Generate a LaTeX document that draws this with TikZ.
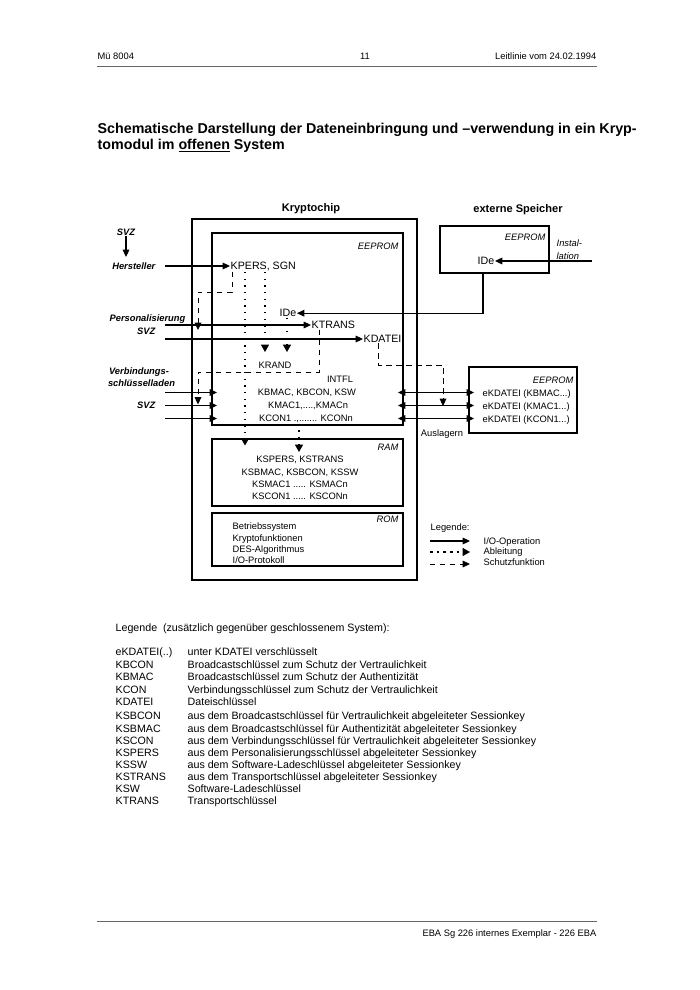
\documentclass[tikz,border=0pt]{standalone}
\usepackage{fontspec}
\setmainfont{Liberation Sans}
\usetikzlibrary{arrows.meta,fit,calc}
\begin{document}
\begin{tikzpicture}[x=0.75pt,y=-0.75pt,
  every node/.style={inner sep=0.5pt, outer sep=0pt},
  box/.style={draw, line width=0.8pt, inner sep=0pt},
  t7/.style={font=\fontsize{7}{8.4}\selectfont},
  t8/.style={font=\fontsize{8}{9.6}\selectfont},
  tk/.style={font=\fontsize{8}{9.6}\selectfont},
  ttl/.style={font=\fontsize{10.7}{13}\selectfont\bfseries},
  hdb/.style={font=\fontsize{8.3}{10}\selectfont\bfseries},
  ital/.style={font=\fontsize{7}{8.4}\selectfont\itshape},
  bital/.style={font=\fontsize{7}{8.4}\selectfont\bfseries\itshape},
  io/.style={line width=0.8pt,-{Triangle[length=5.5pt,width=5pt]}},
  iob/.style={line width=0.8pt,{Triangle[length=5.5pt,width=5pt]}-{Triangle[length=5.5pt,width=5pt]}},
  der/.style={line width=0.8pt,dash pattern=on 1pt off 4pt,-{Triangle[length=5.5pt,width=6pt]}},
  prot/.style={line width=0.65pt,dash pattern=on 4pt off 3.5pt,-{Triangle[length=5.5pt,width=5pt]}},
  rule/.style={line width=0.6pt, black!60},
]
\fill[white] (0,0) rectangle (700,990);
\useasboundingbox (0,0) rectangle (700,990);

% header
\node[t7,anchor=base west] (hl) at (97,59) {Mü 8004};
\node[t7,anchor=base] (hm) at (365,59) {11};
\node[t7,anchor=base east] (hr) at (597,59) {Leitlinie vom 24.02.1994};
\coordinate (hla) at (97,66); \coordinate (hlb) at (597,66);
\draw[rule] (hla) -- (hlb);

% title
\node[ttl,anchor=base west] (ti1) at (97,133) {Schematische Darstellung der Dateneinbringung und –verwendung in ein Kryp-};
\node[ttl,anchor=base west] (ti2) at (97,149) {tomodul im \underline{offenen} System};

\node[hdb,anchor=base] (kc) at (311,211) {Kryptochip};
\node[hdb,anchor=base] (es) at (518,212) {externe Speicher};

% boxes
\node[box, fit={(192,219)(417,580)}] (chip) {};
\node[box, fit={(212,233)(403,425)}] (eep) {};
\node[box, fit={(212,439)(403,506)}] (ram) {};
\node[box, fit={(212,513)(403,566)}] (rom) {};
\node[box, fit={(440,226)(549,273)}] (xeep) {};
\node[box, fit={(469,367)(577,433)}] (xeep2) {};

\node[ital,anchor=base east] (eepl) at (399,249.5) {EEPROM};
\node[ital,anchor=base east] (raml) at (399,450.5) {RAM};
\node[ital,anchor=base east] (roml) at (399,522.5) {ROM};
\node[ital,anchor=base east] (xeepl) at (546,240.5) {EEPROM};
\node[ital,anchor=base east] (xeep2l) at (574,383.5) {EEPROM};

% left labels
\node[bital,anchor=base] (svz1) at (126,235) {SVZ};
\node[bital,anchor=base east] (herst) at (156,269.5) {Hersteller};
\node[bital,anchor=base east] (pers) at (186,321.3) {Personalisierung};
\node[bital,anchor=base east] (svz2) at (156,334.5) {SVZ};
\node[bital,anchor=base] (verb1) at (139,374.5) {Verbindungs-};
\node[bital,anchor=base] (verb2) at (141.5,386.5) {schlüsselladen};
\node[bital,anchor=base east] (svz3) at (156,408.5) {SVZ};

% chip EEPROM content
\node[tk,anchor=base west] (kpers) at (230,269.8) {KPERS, SGN};
\node[tk,anchor=base] (ide1) at (288,316.8) {IDe};
\node[tk,anchor=base west] (ktrans) at (311,328.8) {KTRANS};
\node[tk,anchor=base west] (kdatei) at (363,342.8) {KDATEI};
\node[t7,anchor=base] (krand) at (275,368.3) {KRAND};
\node[t7,anchor=base] (intfl) at (340,382.3) {INTFL};
\node[t7,anchor=base] (kbmac) at (307,395.8) {KBMAC, KBCON, KSW};
\node[t7,anchor=base] (kmac) at (308,408.8) {KMAC1,....,KMACn};
\node[t7,anchor=base] (kcon) at (306,421.8) {KCON1 .,....... KCONn};

% RAM / ROM content
\node[t7,anchor=base] (r1) at (300,462.3) {KSPERS, KSTRANS};
\node[t7,anchor=base] (r2) at (300,475.3) {KSBMAC, KSBCON, KSSW};
\node[t7,anchor=base] (r3) at (300,487.3) {KSMAC1 ..... KSMACn};
\node[t7,anchor=base] (r4) at (300,499.3) {KSCON1 ..... KSCONn};
\node[t7,anchor=base west] (o1) at (232,529.3) {Betriebssystem};
\node[t7,anchor=base west] (o2) at (232,541.3) {Kryptofunktionen};
\node[t7,anchor=base west] (o3) at (232,552.3) {DES-Algorithmus};
\node[t7,anchor=base west] (o4) at (232,563.3) {I/O-Protokoll};

% external memories content
\node[tk,anchor=base] (ide2) at (486,264.8) {IDe};
\node[ital,anchor=base west] (inst1) at (556,246) {Instal-};
\node[ital,anchor=base west] (inst2) at (556,259) {lation};
\node[t7,anchor=base west] (ek1) at (482,396.3) {eKDATEI (KBMAC...)};
\node[t7,anchor=base west] (ek2) at (482,409.3) {eKDATEI (KMAC1...)};
\node[t7,anchor=base west] (ek3) at (482,422.3) {eKDATEI (KCON1...)};
\node[t7,anchor=base] (ausl) at (442,436.3) {Auslagern};

% I/O connectors
\coordinate (svzend) at (126,257);
\draw[io] (svz1.south) -- (svzend);
\coordinate (inH) at (165,266);
\draw[io] (inH) -- (inH -| kpers.west);
\coordinate (inP) at (165,325);
\draw[io] (inP) -- (inP -| ktrans.west);
\coordinate (inS) at (165,339);
\draw[io] (inS) -- (inS -| kdatei.west);
\coordinate (instin) at (592,261);
\draw[io] (instin) -- (instin -| ide2.east);
\coordinate (xout) at (483,273);
\draw[io] (xout) |- (ide1.east);

\foreach \y/\n in {392.5/1,405.5/2,418.5/3}{
  \coordinate (inV\n) at (165,\y);
  \coordinate (tV\n) at (217,\y);
  \draw[io] (inV\n) -- (tV\n);
  \coordinate (ra\n) at (398,\y);
  \coordinate (rb\n) at (474,\y);
  \draw[iob] (ra\n) -- (rb\n);
}

% derivations (dotted)
\coordinate (d1e) at (245,445.5);
\draw[der] (kpers.south -| d1e) -- (d1e);
\coordinate (d2e) at (265,352);
\draw[der] (kpers.south -| d2e) -- (d2e);
\coordinate (d3e) at (287,352);
\draw[der] (ide1.south -| d3e) -- (d3e);
\coordinate (d4e) at (299,452);
\draw[der] (kcon.south -| d4e) -- (d4e);

% protection (dashed)
\coordinate (p1a) at (232,292); \coordinate (p1b) at (198,292); \coordinate (p1e) at (198,330);
\draw[prot] (kpers.south -| p1a) -- (p1a) -- (p1b) -- (p1e);
\coordinate (p2a) at (319,372); \coordinate (p2b) at (198,372); \coordinate (p2e) at (198,404.5);
\draw[prot] (ktrans.south -| p2a) -- (p2a) -- (p2b) -- (p2e);
\coordinate (p3a) at (378,365); \coordinate (p3b) at (443,365); \coordinate (p3e) at (443,406);
\draw[prot] (kdatei.south -| p3a) -- (p3a) -- (p3b) -- (p3e);

% small legend
\node[t7,anchor=base west] (leg) at (430,530.3) {Legende:};
\coordinate (l1a) at (430,541); \coordinate (l1b) at (470,541);
\coordinate (l2a) at (430,552); \coordinate (l2b) at (470,552);
\coordinate (l3a) at (430,564); \coordinate (l3b) at (470,564);
\draw[io] (l1a) -- (l1b);
\draw[der, dash pattern=on 2pt off 3pt] (l2a) -- (l2b);
\draw[prot] (l3a) -- (l3b);
\node[t7,anchor=base west] (lt1) at (483,544.3) {I/O-Operation};
\node[t7,anchor=base west] (lt2) at (483,554.8) {Ableitung};
\node[t7,anchor=base west] (lt3) at (483,565.3) {Schutzfunktion};

% bottom legend
\node[t8,anchor=base west] (bl) at (115,631.8) {Legende\ \ (zusätzlich gegenüber geschlossenem System):};
\foreach \k/\d/\y [count=\i] in {
  eKDATEI(..)/unter KDATEI verschlüsselt/655.8,
  KBCON/Broadcastschlüssel zum Schutz der Vertraulichkeit/668.3,
  KBMAC/Broadcastschlüssel zum Schutz der Authentizität/680.8,
  KCON/Verbindungsschlüssel zum Schutz der Vertraulichkeit/693.3,
  KDATEI/Dateischlüssel/705.8,
  KSBCON/aus dem Broadcastschlüssel für Vertraulichkeit abgeleiteter Sessionkey/719.8,
  KSBMAC/aus dem Broadcastschlüssel für Authentizität abgeleiteter Sessionkey/732.3,
  KSCON/aus dem Verbindungsschlüssel für Vertraulichkeit abgeleiteter Sessionkey/744.8,
  KSPERS/aus dem Personalisierungsschlüssel abgeleiteter Sessionkey/756.8,
  KSSW/aus dem Software-Ladeschlüssel abgeleiteter Sessionkey/768.8,
  KSTRANS/aus dem Transportschlüssel abgeleiteter Sessionkey/780.8,
  KSW/Software-Ladeschlüssel/792.8,
  KTRANS/Transportschlüssel/804.8}{
  \node[t8,anchor=base west] (lk\i) at (115,\y) {\k};
  \node[t8,anchor=base west] (ld\i) at (187,\y) {\d};
}

% footer
\coordinate (fla) at (97,921); \coordinate (flb) at (597,921);
\draw[rule] (fla) -- (flb);
\node[t7,anchor=base east] (ft) at (597,936) {EBA Sg 226 internes Exemplar - 226 EBA};
\end{tikzpicture}
\end{document}
